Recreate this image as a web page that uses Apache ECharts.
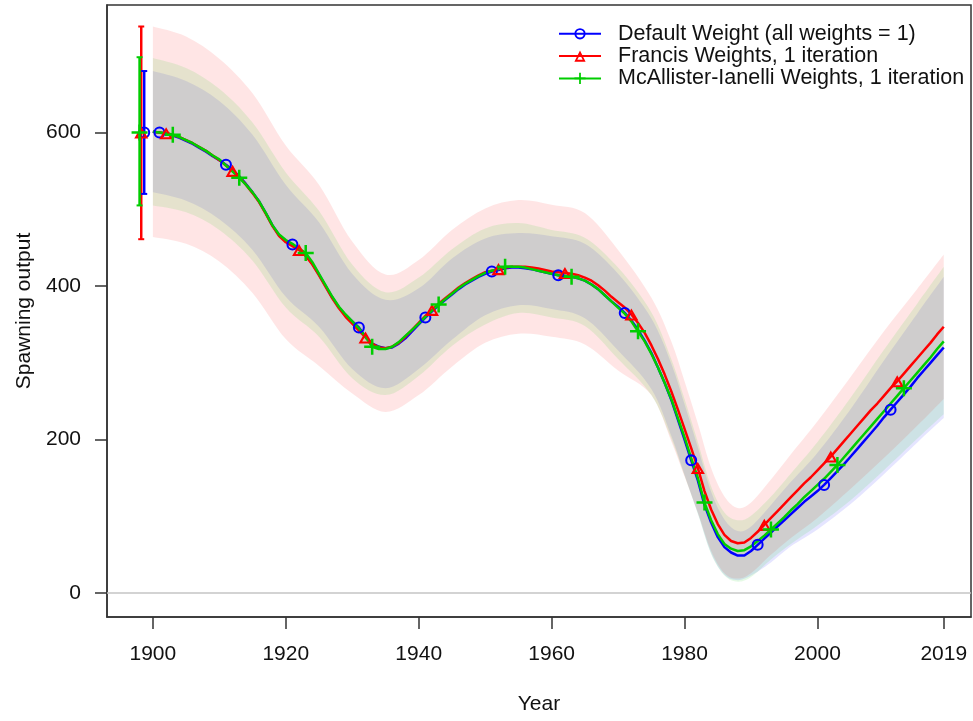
<!DOCTYPE html>
<html><head><meta charset="utf-8">
<script src="https://cdn.jsdelivr.net/npm/echarts@6/dist/echarts.min.js"></script>
<style>html,body{margin:0;padding:0;background:#fff}#c{width:973px;height:721px}</style>
</head><body><div id="c"></div>
<script>
// ---------- DATA ----------
const firstYear = 1900;
const names = ['Default Weight (all weights = 1)', 'Francis Weights, 1 iteration', 'McAllister-Ianelli Weights, 1 iteration'];
const blueSO = [601,600,598,596,593,589,585,580,575,569,
 564,558,551,543,533,522,510,495,479,466,
 459,454,448,440,429,415,400,385,372,362,
 354,346,334,325,321,319,320,325,332,341,
 350,359,367,375,382,389,396,402,407,412,
 416,419,421,423,424,424,423,422,420,418,
 416,414,413,412,410,407,402,396,388,380,
 373,365,355,343,329,313,294,274,252,226,
 200,173,147,115,92,73,60,53,49,49,
 55,63,71,79,87,95,103,111,119,126,
 133,141,150,159,168,178,188,198,208,218,
 229,239,249,259,269,280,290,300,310,320];
const redSO = [601,600,599,597,594,590,586,581,576,570,
 564,557,550,542,532,521,509,494,478,465,
 457,452,447,439,428,414,399,384,371,360,
 351,342,333,325,320,319,321,326,334,343,
 352,361,369,377,384,391,398,404,409,414,
 418,420,422,424,425,425,425,424,423,421,
 419,418,417,416,414,411,407,401,394,386,
 379,372,363,352,339,323,305,285,263,239,
 214,189,163,133,109,90,76,68,65,66,
 72,80,89,98,107,116,125,134,143,151,
 160,169,178,188,198,208,218,228,238,247,
 257,267,276,286,296,306,316,326,337,347];
const greenSO = [601,600,599,597,594,590,586,581,576,570,
 565,557,549,541,532,522,510,495,479,467,
 460,455,449,443,431,416,401,386,373,363,
 354,345,334,321,318,318,321,327,335,343,
 351,360,368,376,383,390,397,403,408,413,
 417,420,422,425,425,425,424,422,420,418,
 416,414,413,412,410,407,402,396,388,380,
 372,364,354,341,328,312,294,274,253,228,
 203,176,150,118,95,77,64,58,55,56,
 61,68,75,83,91,99,108,116,125,133,
 141,149,158,167,177,187,197,207,217,227,
 237,247,257,267,277,287,297,307,318,328];

// confidence intervals (read at these years)
const ciYears = [1900,1905,1910,1915,1920,1925,1930,1935,1940,1945,1950,1955,1960,1965,1970,1975,1978,1980,1982,1984,1986,1988,1990,1993,1996,2000,2005,2010,2015,2019];
const blueHi  = [680,667,641,597,532,483,416,382,397,436,462,469,465,455,416,358,299,246,190,132,96,81,87,115,145,183,240,303,364,412];
const blueLo  = [522,511,487,447,386,347,292,267,292,330,362,375,370,358,316,266,205,154,104,52,24,17,23,40,61,83,116,155,196,228];
const redHi   = [738,725,696,651,583,532,458,415,434,473,501,512,506,495,447,385,328,276,221,163,126,111,118,148,181,224,282,341,396,441];
const redLo   = [464,455,432,391,331,296,260,236,258,295,326,338,334,324,290,258,198,152,105,55,26,19,26,50,72,98,136,176,218,253];
const greenHi = [697,684,657,613,548,498,428,392,411,448,475,482,473,463,424,366,305,253,197,139,105,95,101,126,156,197,255,317,377,425];
const greenLo = [505,496,473,433,372,334,280,258,283,322,350,365,359,348,305,258,201,153,103,51,23,15,21,44,64,88,121,160,201,233];

// initial equilibrium estimates: [lower, estimate, upper]
const blueInit  = [520, 600, 680];
const redInit   = [461, 600, 738];
const greenInit = [505, 600, 698];
const initX = [1898.7, 1898.25, 1898.0];   // blue, red, green

const xTicks = [1900, 1920, 1940, 1960, 1980, 2000, 2019];
const yTicks = [0, 200, 400, 600];

// ---------- STYLE ----------
const FONT = '"Liberation Sans", Arial, Helvetica, sans-serif';
const cols = ['#0000ff', '#ff0000', '#00cd00'];
const symCircle = 'path://M0,-10A10,10,0,1,1,0,10A10,10,0,1,1,0,-10ZM0,-6.6A6.6,6.6,0,1,0,0,6.6A6.6,6.6,0,1,0,0,-6.6Z';
const symTri = 'path://M0,-10L8.66,5L-8.66,5ZM0,-4.8L-4.16,2.4L4.16,2.4Z';
const symPlus = 'path://M-1.1,-7H1.1V-1.1H7V1.1H1.1V7H-1.1V1.1H-7V-1.1H-1.1Z';
const syms = [symCircle, symTri, symPlus];
const symSizes = [12, 14, 16];
const markerStart = [1901, 1902, 1903];

const models = [
  {so: blueSO, hi: blueHi, lo: blueLo, init: blueInit},
  {so: redSO, hi: redHi, lo: redLo, init: redInit},
  {so: greenSO, hi: greenHi, lo: greenLo, init: greenInit}
];

// Catmull-Rom -> cubic bezier path through pixel points
function curvePath(pts, start) {
  let d = start ? ('M' + pts[0][0] + ',' + pts[0][1]) : ('L' + pts[0][0] + ',' + pts[0][1]);
  for (let i = 0; i < pts.length - 1; i++) {
    const p0 = pts[Math.max(i - 1, 0)], p1 = pts[i], p2 = pts[i + 1], p3 = pts[Math.min(i + 2, pts.length - 1)];
    const c1 = [p1[0] + (p2[0] - p0[0]) / 6, p1[1] + (p2[1] - p0[1]) / 6];
    const c2 = [p2[0] - (p3[0] - p1[0]) / 6, p2[1] - (p3[1] - p1[1]) / 6];
    d += 'C' + c1[0] + ',' + c1[1] + ',' + c2[0] + ',' + c2[1] + ',' + p2[0] + ',' + p2[1];
  }
  return d;
}

const series = [];
// bands (semi-transparent, like R alpha shading)
models.forEach((m, k) => {
  series.push({
    type: 'custom', name: 'band' + k, silent: true, z: 1, clip: true,
    coordinateSystem: 'cartesian2d',
    data: [[ciYears[0], m.lo[0]]],
    renderItem: function (params, api) {
      const top = ciYears.map((y, i) => api.coord([y, m.hi[i]]));
      const bot = ciYears.map((y, i) => api.coord([y, m.lo[i]])).reverse();
      const d = curvePath(top, true) + curvePath(bot, false) + 'Z';
      return {type: 'path', shape: {pathData: d}, style: {fill: cols[k], opacity: 0.1, stroke: null}};
    },
    markLine: k === 0 ? {silent: true, symbol: ['none', 'none'], label: {show: false},
      lineStyle: {color: '#c4c4c4', width: 1.5, type: 'solid'}, emphasis: {disabled: true},
      data: [{yAxis: 0}], animation: false} : undefined
  });
});
// initial-value error bars
models.forEach((m, k) => {
  const cap = {symbol: 'rect', symbolSize: [6, 2]};
  series.push({
    type: 'line', name: 'init' + k, silent: true, z: 4,
    data: [
      Object.assign({value: [initX[k], m.init[0]]}, cap),
      {value: [initX[k], m.init[1]], symbol: syms[k], symbolSize: symSizes[k]},
      Object.assign({value: [initX[k], m.init[2]]}, cap)
    ],
    symbolKeepAspect: true,
    lineStyle: {color: cols[k], width: 2.5}, itemStyle: {color: cols[k]},
    emphasis: {disabled: true}
  });
});
// main lines
models.forEach((m, k) => {
  series.push({
    type: 'line', name: names[k], z: 5,
    data: m.so.map((v, i) => {
      const yr = firstYear + i;
      return (yr - markerStart[k]) % 10 === 0 ? {value: [yr, v]} : {value: [yr, v], symbol: 'none'};
    }),
    symbol: syms[k], symbolSize: symSizes[k], symbolKeepAspect: true, showAllSymbol: true,
    lineStyle: {color: cols[k], width: 2.5}, itemStyle: {color: cols[k]},
    emphasis: {disabled: true}
  });
});

const chart = echarts.init(document.getElementById('c'), null, {renderer: 'canvas'});
chart.setOption({
  animation: false,
  backgroundColor: '#fff',
  grid: {left: 107, right: 2, top: 5, bottom: 104, show: true, borderColor: '#333', borderWidth: 1.5},
  legend: {
    data: names, left: 558, top: 22.8, orient: 'vertical', padding: 0,
    itemWidth: 42, itemHeight: 14, itemGap: 0.3,
    textStyle: {fontFamily: FONT, fontSize: 21.5, color: '#111', lineHeight: 21, padding: [0, 0, 0, 12]}
  },
  xAxis: {
    type: 'value', min: 1893.1, max: 2023.1,
    name: 'Year', nameLocation: 'middle', nameGap: 77,
    nameTextStyle: {fontFamily: FONT, fontSize: 21, color: '#111'},
    axisLine: {show: true, onZero: false, lineStyle: {color: '#333', width: 1.5}},
    axisTick: {show: true, length: 12, customValues: xTicks, lineStyle: {color: '#333', width: 1.5}},
    axisLabel: {customValues: xTicks, margin: 27, fontFamily: FONT, fontSize: 21, color: '#111',
      formatter: v => String(v)},
    splitLine: {show: false}
  },
  yAxis: {
    type: 'value', min: -31, max: 766,
    name: 'Spawning output', nameLocation: 'middle', nameGap: 72, nameRotate: 90,
    nameTextStyle: {fontFamily: FONT, fontSize: 21, color: '#111'},
    axisLine: {show: true, onZero: false, lineStyle: {color: '#333', width: 1.5}},
    axisTick: {show: true, length: 12, customValues: yTicks, lineStyle: {color: '#333', width: 1.5}},
    axisLabel: {customValues: yTicks, margin: 26, fontFamily: FONT, fontSize: 21, color: '#111',
      formatter: v => String(v)},
    splitLine: {show: false}
  },
  series: series
});
</script></body></html>
